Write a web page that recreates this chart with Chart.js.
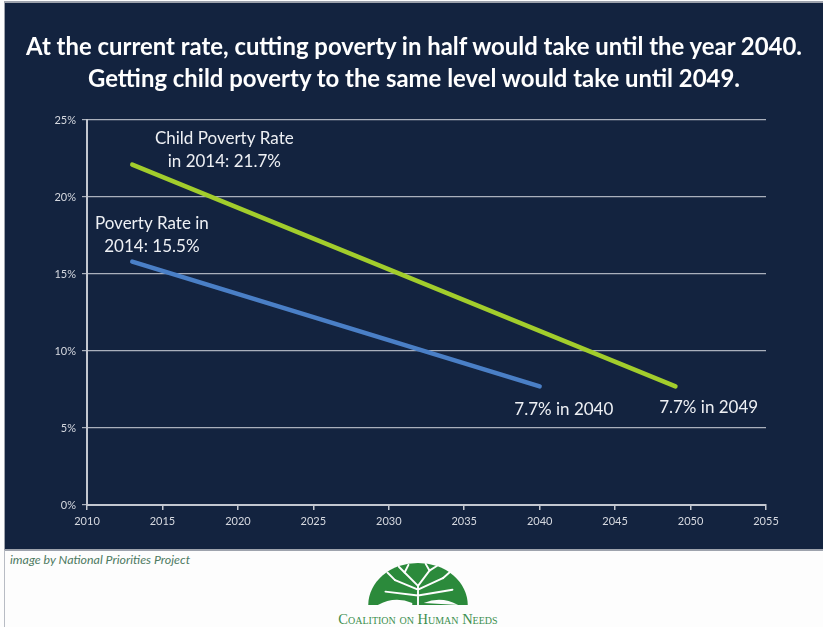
<!DOCTYPE html>
<html>
<head>
<meta charset="utf-8">
<script src="https://cdn.jsdelivr.net/npm/chart.js@4.4.1/dist/chart.umd.min.js"></script>
<style>
  html, body { margin: 0; padding: 0; background: #fdfdfd; }
  body { width: 823px; height: 627px; position: relative; overflow: hidden; font-family: Lato, "Open Sans", sans-serif; }
  #panel {
    position: absolute; left: 4px; top: 1px; width: 819px; height: 546px;
    background: #13233f; border-top: 2px solid #9ea3ad; border-left: 1px solid #9ea3ad; border-bottom: 2px solid #9ea3ad;
  }
  #chartBox { position: absolute; left: 0; top: 0; width: 818px; height: 546px; }
  #title {
    position: absolute; left: 0; top: 27px; width: 818px; text-align: center;
    color: #ffffff; font-weight: bold; font-size: 23.9px; line-height: 32px; white-space: nowrap;
  }
  #leftRule { position: absolute; left: 4px; top: 550px; width: 1px; height: 77px; background: #b8bcc4; }
  #credit {
    position: absolute; left: 10px; top: 552px; font-style: italic; font-size: 12.4px;
    color: #4d7a62;
  }
  #logo { position: absolute; left: 326px; top: 561px; width: 184px; text-align: center; }
  #logo svg { display: block; margin: 0 auto; }
  #logo .name {
    font-family: "Liberation Serif", "DejaVu Serif", serif; font-variant: small-caps;
    font-size: 14.5px; line-height: 16px; color: #3c8f4e; margin-top: 6px;
  }
</style>
</head>
<body>
<div id="panel">
  <div id="chartBox"><canvas id="povertyChart"></canvas></div>
  <div id="title"></div>
</div>
<div id="leftRule"></div>
<div id="credit">image by National Priorities Project</div>
<div id="logo">
  <svg width="106" height="44" viewBox="0 0 108 46">
    <path d="M2 46 A52 44 0 0 1 106 46 Z" fill="#2b8a3b"/>
    <g stroke="#fdfdfd" stroke-width="2" fill="none" stroke-linecap="round">
      <path d="M54 46 L54 26 L40 12 M54 26 L66 10 M54 30 L30 20 M54 30 L80 18 M54 36 L20 32 M54 36 L90 30"/>
      <path d="M40 12 L34 6 M40 12 L44 4 M66 10 L62 3 M66 10 L74 5 M30 20 L22 12 M80 18 L88 11"/>
    </g>
    <path d="M12 46 Q30 36 48 44 L48 46 Z M60 44 Q78 36 96 46 Z" fill="#fdfdfd"/>
  </svg>
  <div class="name">Coalition on Human Needs</div>
</div>

<script>
// ============================================
// DATA — poverty rate projections
// ============================================
const povertyYears = [2013, 2040];
const povertyRates = [15.8, 7.7];
const childYears   = [2013, 2049];
const childRates   = [22.1, 7.7];

const xTicks = [2010, 2015, 2020, 2025, 2030, 2035, 2040, 2045, 2050, 2055];
const yTicks = [0, 5, 10, 15, 20, 25];

const titleLines = [
    'At the current rate, cutting poverty in half would take until the year 2040.',
    'Getting child poverty to the same level would take until 2049.'
];

// callouts, anchored in data units (year, percent)
const callouts = [
    { lines: ['Child Poverty Rate', 'in 2014: 21.7%'], x: 2019.1, y: 23.8 },
    { lines: ['Poverty Rate in', '2014: 15.5%'], x: 2014.3, y: 18.3 },
    { lines: ['7.7% in 2040'], x: 2041.6, y: 6.2 },
    { lines: ['7.7% in 2049'], x: 2051.2, y: 6.3 }
];

document.getElementById('title').innerHTML = titleLines.join('<br>');

const toPoints = (xs, ys) => xs.map((x, i) => ({ x: x, y: ys[i] }));

const calloutPlugin = {
    id: 'callouts',
    afterDatasetsDraw(chart) {
        const { ctx, scales } = chart;
        ctx.save();
        ctx.fillStyle = '#eef0f4';
        ctx.font = '17px Lato, "Open Sans", sans-serif';
        ctx.textAlign = 'center';
        ctx.textBaseline = 'middle';
        callouts.forEach(c => {
            const px = scales.x.getPixelForValue(c.x);
            const py = scales.y.getPixelForValue(c.y);
            c.lines.forEach((line, i) => ctx.fillText(line, px, py + i * 23));
        });
        ctx.restore();
    }
};

const axisColor = '#c3c7d0';
const tickColor = '#d6d9e0';
const tickFont = { family: 'Lato, "Open Sans", sans-serif', size: 11 };

new Chart(document.getElementById('povertyChart').getContext('2d'), {
    type: 'scatter',
    data: {
        datasets: [
            {
                label: 'Child Poverty Rate',
                data: toPoints(childYears, childRates),
                showLine: true,
                borderColor: '#a2cd2c',
                borderWidth: 4.5,
                pointRadius: 0,
                borderCapStyle: 'round'
            },
            {
                label: 'Poverty Rate',
                data: toPoints(povertyYears, povertyRates),
                showLine: true,
                borderColor: '#4a7fc6',
                borderWidth: 4.5,
                pointRadius: 0,
                borderCapStyle: 'round'
            }
        ]
    },
    options: {
        responsive: true,
        maintainAspectRatio: false,
        animation: false,
        layout: { padding: { left: 0, right: 57, top: 117, bottom: 0 } },
        plugins: {
            legend: { display: false },
            tooltip: { enabled: false },
            title: { display: false }
        },
        scales: {
            x: {
                type: 'linear',
                min: 2010,
                max: 2055,
                afterBuildTicks: axis => { axis.ticks = xTicks.map(v => ({ value: v })); },
                afterFit: axis => { axis.height = 44; },
                grid: { drawOnChartArea: false, drawTicks: true, tickLength: 5, color: axisColor, lineWidth: 1.5 },
                border: { display: true, color: axisColor, width: 2 },
                ticks: { color: tickColor, padding: 5, font: tickFont, callback: v => String(v) }
            },
            y: {
                min: 0,
                max: 25,
                afterBuildTicks: axis => { axis.ticks = yTicks.map(v => ({ value: v })); },
                afterFit: axis => { axis.width = 82; },
                grid: { color: '#aab0bc', lineWidth: 1.2, tickLength: 5 },
                border: { display: true, color: axisColor, width: 2 },
                ticks: { color: tickColor, padding: 6, font: tickFont, callback: v => v + '%' }
            }
        }
    },
    plugins: [calloutPlugin]
});
</script>
</body>
</html>
